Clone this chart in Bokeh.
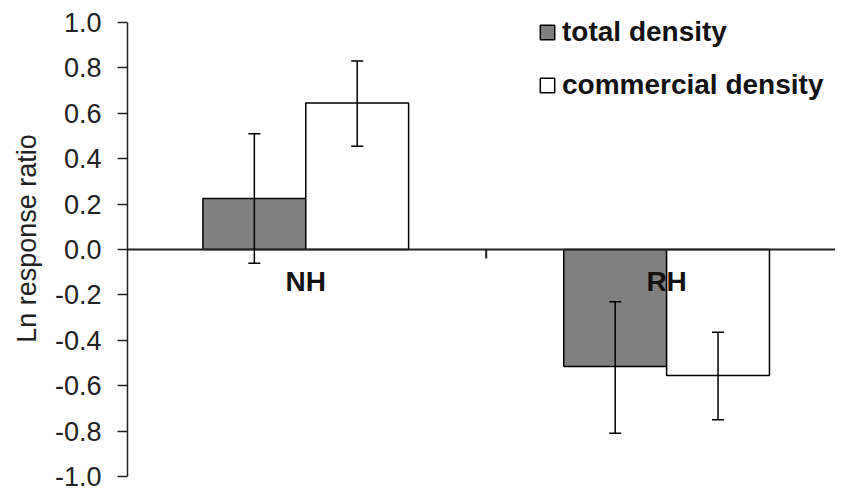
from bokeh.plotting import figure
from bokeh.models import (Range1d, FixedTicker, PrintfTickFormatter, Span, Whisker,
                          ColumnDataSource, Legend, LegendItem, TeeHead)
from bokeh.core.properties import value
from bokeh.embed import file_html
from bokeh.resources import INLINE

# ---- data ----
categories = ["NH", "RH"]
series_names = ["total density", "commercial density"]
total_density = [0.225, -0.515]
total_lower = [-0.06, -0.81]
total_upper = [0.51, -0.23]
commercial_density = [0.645, -0.555]
commercial_lower = [0.455, -0.75]
commercial_upper = [0.83, -0.365]
y_ticks = [-1.0, -0.8, -0.6, -0.4, -0.2, 0.0, 0.2, 0.4, 0.6, 0.8, 1.0]

FONT = "Liberation Sans"
bar_w = 0.285
n = len(categories)

p = figure(width=835, height=492, output_backend="svg", toolbar_location=None,
           x_axis_type=None, x_range=Range1d(0.006, n - 0.032),
           y_range=Range1d(y_ticks[0], y_ticks[-1] + 0.097),
           min_border_left=127, min_border_right=0, min_border_top=0,
           min_border_bottom=16)
p.outline_line_color = None
p.grid.visible = False
p.background_fill_color = "white"

centers = [i + 0.5 for i in range(n)]
x_total = [c - bar_w / 2 for c in centers]
x_comm = [c + bar_w / 2 for c in centers]

src_t = ColumnDataSource(dict(x=x_total, top=total_density, lo=total_lower, hi=total_upper))
src_c = ColumnDataSource(dict(x=x_comm, top=commercial_density, lo=commercial_lower, hi=commercial_upper))

r_t = p.vbar(x="x", top="top", bottom=0, width=bar_w, source=src_t,
             fill_color="#808080", line_color="black", line_width=1.5)
r_c = p.vbar(x="x", top="top", bottom=0, width=bar_w, source=src_c,
             fill_color="white", line_color="black", line_width=1.5)

zero = Span(location=0, dimension="width", line_color="#222222", line_width=2)
p.add_layout(zero)

# boundary tick on zero line
p.segment(x0=list(range(1, n)), y0=[0] * (n - 1), x1=list(range(1, n)),
          y1=[-0.04] * (n - 1), line_color="#222222", line_width=2)

for src in (src_t, src_c):
    w = Whisker(base="x", upper="hi", lower="lo", source=src, line_color="black",
                line_width=1.5, level="overlay")
    w.upper_head = TeeHead(size=12, line_color="black", line_width=1.5)
    w.lower_head = TeeHead(size=12, line_color="black", line_width=1.5)
    p.add_layout(w)

p.text(x=centers, y=[0] * n, text=categories, y_offset=32,
       text_font=value(FONT), text_font_size="28px", text_font_style="bold",
       text_align="center", text_baseline="middle", text_color="#111111")

ax = p.yaxis[0]
ax.ticker = FixedTicker(ticks=y_ticks)
ax.bounds = (y_ticks[0], y_ticks[-1])
ax.formatter = PrintfTickFormatter(format="%.1f")
ax.axis_label = "Ln response ratio"
ax.axis_label_text_font = FONT
ax.axis_label_text_font_size = "27px"
ax.axis_label_text_font_style = "normal"
ax.axis_label_text_color = "#222222"
ax.axis_label_standoff = 10
ax.major_label_text_font = FONT
ax.major_label_text_font_size = "27px"
ax.major_label_text_color = "#222222"
ax.major_label_standoff = 16
ax.major_tick_out = 10
ax.major_tick_in = 0
ax.minor_tick_out = 0
ax.minor_tick_in = 0
ax.axis_line_color = "#222222"
ax.axis_line_width = 1.5
ax.major_tick_line_color = "#222222"
ax.major_tick_line_width = 1.5

legend = Legend(items=[LegendItem(label=series_names[0], renderers=[r_t]),
                       LegendItem(label=series_names[1], renderers=[r_c])],
                location=(411, 375), orientation="vertical",
                border_line_color=None, background_fill_alpha=0,
                padding=0, margin=0, spacing=21,
                glyph_width=18, glyph_height=18, label_standoff=6,
                label_text_font=FONT, label_text_font_size="28px",
                label_text_font_style="bold", label_text_color="#111111")
p.add_layout(legend)

open("out.html", "w").write(file_html(p, INLINE))
